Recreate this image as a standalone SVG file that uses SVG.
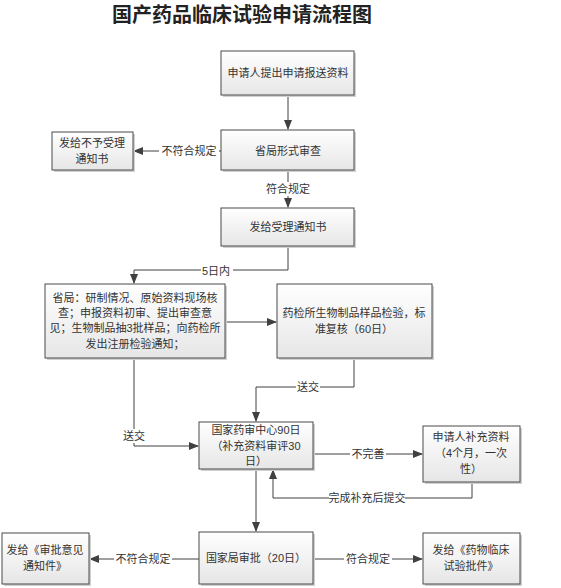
<svg xmlns="http://www.w3.org/2000/svg" width="561" height="588" viewBox="0 0 561 588">
<defs>
<linearGradient id="g" x1="0" y1="0" x2="0" y2="1">
<stop offset="0" stop-color="#ffffff"/>
<stop offset="1" stop-color="#e6e6e6"/>
</linearGradient>
<marker id="ah" markerWidth="10" markerHeight="8" refX="9" refY="4" orient="auto" markerUnits="userSpaceOnUse">
<path d="M0,0 L10,4 L0,8 Z" fill="#404040"/>
</marker>
</defs>
<style>
.box{fill:url(#g);stroke:#4a4a4a;stroke-width:1}
.sh{fill:#d0d0d0}
.t{font-family:"Liberation Sans","Noto Sans CJK SC",sans-serif;font-size:11px;fill:#333;text-anchor:middle}
.c{fill:none;stroke:#404040;stroke-width:1}
.ca{fill:none;stroke:#404040;stroke-width:1;marker-end:url(#ah)}
.lb{fill:#fff}
</style>
<rect width="561" height="588" fill="#fff"/>
<text x="242" y="22" font-family="'Noto Sans CJK SC',sans-serif" font-size="20" font-weight="bold" fill="#222" text-anchor="middle">国产药品临床试验申请流程图</text>

<g id="connectors">
<path class="ca" d="M288,96 V129"/>
<path class="ca" d="M221,151 H134"/>
<rect class="lb" x="159" y="144" width="60" height="14"/>
<text class="t" x="189" y="155">不符合规定</text>
<path class="ca" d="M288,171 V207"/>
<rect class="lb" x="264" y="182" width="48" height="14"/>
<text class="t" x="288" y="193">符合规定</text>
<path class="ca" d="M288,247 V270 H134 V283"/>
<rect class="lb" x="201" y="264" width="32" height="14"/>
<text class="t" x="216" y="275">5日内</text>
<path class="ca" d="M225,322 H276"/>
<path class="ca" d="M354,358 V387 H256 V421"/>
<rect class="lb" x="296" y="380" width="24" height="14"/>
<text class="t" x="308" y="391">送交</text>
<path class="ca" d="M134,358 V446 H198"/>
<rect class="lb" x="122" y="429" width="24" height="14"/>
<text class="t" x="134" y="440">送交</text>
<path class="ca" d="M313,454 H422"/>
<rect class="lb" x="350" y="447" width="36" height="14"/>
<text class="t" x="368" y="458">不完善</text>
<path class="ca" d="M472,482 V498 H273 V470"/>
<rect class="lb" x="329" y="491" width="76" height="14"/>
<text class="t" x="367" y="502">完成补充后提交</text>
<path class="ca" d="M256,469 V531"/>
<path class="ca" d="M199,559 H90"/>
<rect class="lb" x="114" y="552" width="58" height="14"/>
<text class="t" x="143" y="563">不符合规定</text>
<path class="ca" d="M313,559 H422"/>
<rect class="lb" x="344" y="552" width="48" height="14"/>
<text class="t" x="368" y="563">符合规定</text>
</g>

<g id="n1">
<rect class="sh" x="223" y="53" width="133" height="44"/>
<rect class="box" x="221" y="51" width="133" height="44"/>
<text class="t" x="288" y="77">申请人提出申请报送资料</text>
</g>
<g id="n2">
<rect class="sh" x="223" y="132" width="133" height="40"/>
<rect class="box" x="221" y="130" width="133" height="40"/>
<text class="t" x="288" y="155">省局形式审查</text>
</g>
<g id="n3">
<rect class="sh" x="54" y="134" width="81" height="38"/>
<rect class="box" x="52" y="132" width="81" height="38"/>
<text class="t" x="92" y="147">发给不予受理</text>
<text class="t" x="92" y="163">通知书</text>
</g>
<g id="n4">
<rect class="sh" x="223" y="210" width="133" height="38"/>
<rect class="box" x="221" y="208" width="133" height="38"/>
<text class="t" x="288" y="231">发给受理通知书</text>
</g>
<g id="n5">
<rect class="sh" x="47" y="286" width="180" height="74"/>
<rect class="box" x="45" y="284" width="180" height="74"/>
<text class="t" x="135" y="302">省局：研制情况、原始资料现场核</text>
<text class="t" x="135" y="317">查；申报资料初审、提出审查意</text>
<text class="t" x="135" y="332">见；生物制品抽3批样品；向药检所</text>
<text class="t" x="135" y="348">发出注册检验通知；</text>
</g>
<g id="n6">
<rect class="sh" x="279" y="286" width="155" height="74"/>
<rect class="box" x="277" y="284" width="155" height="74"/>
<text class="t" x="354" y="317">药检所生物制品样品检验，标</text>
<text class="t" x="354" y="333">准复核（60日）</text>
</g>
<g id="n7">
<rect class="sh" x="201" y="424" width="114" height="47"/>
<rect class="box" x="199" y="422" width="114" height="47"/>
<text class="t" x="256" y="434">国家药审中心90日</text>
<text class="t" x="256" y="450">（补充资料审评30</text>
<text class="t" x="256" y="465">日）</text>
</g>
<g id="n8">
<rect class="sh" x="425" y="428" width="97" height="56"/>
<rect class="box" x="423" y="426" width="97" height="56"/>
<text class="t" x="471" y="441">申请人补充资料</text>
<text class="t" x="471" y="457">（4个月，一次</text>
<text class="t" x="471" y="473">性）</text>
</g>
<g id="n9">
<rect class="sh" x="201" y="534" width="114" height="52"/>
<rect class="box" x="199" y="532" width="114" height="52"/>
<text class="t" x="256" y="562">国家局审批（20日）</text>
</g>
<g id="n10">
<rect class="sh" x="4" y="535" width="87" height="51"/>
<rect class="box" x="2" y="533" width="87" height="51"/>
<text class="t" x="45" y="554">发给《审批意见</text>
<text class="t" x="45" y="570">通知件》</text>
</g>
<g id="n11">
<rect class="sh" x="425" y="535" width="97" height="51"/>
<rect class="box" x="423" y="533" width="97" height="51"/>
<text class="t" x="471" y="554">发给《药物临床</text>
<text class="t" x="471" y="570">试验批件》</text>
</g>
</svg>
